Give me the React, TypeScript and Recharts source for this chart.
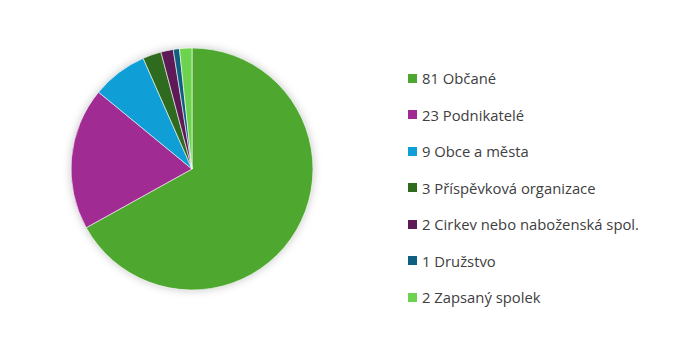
import { PieChart, Pie, Cell, Legend } from 'recharts'

const names = [
  'Občané',
  'Podnikatelé',
  'Obce a města',
  'Příspěvková organizace',
  'Cirkev nebo naboženská spol.',
  'Družstvo',
  'Zapsaný spolek',
]
const counts = [81, 23, 9, 3, 2, 1, 2]
const colors = ['#4EA72E', '#A02B93', '#0F9ED5', '#2F6B1F', '#5E1A56', '#0F5F80', '#6DD34E']

const data = names.map((n, i) => ({ name: `${counts[i]} ${n}`, value: counts[i] }))

function renderLegend() {
  return (
    <div style={{ position: 'absolute', left: 408, top: 60, fontFamily: 'Open Sans, sans-serif' }}>
      {data.map((d, i) => (
        <div key={i} style={{ display: 'flex', alignItems: 'center', height: 36.5 }}>
          <span style={{ width: 9, height: 9, background: colors[i], display: 'inline-block', marginRight: 5 }} />
          <span style={{ fontSize: 14.8, color: '#404040', lineHeight: '20px' }}>{d.name}</span>
        </div>
      ))}
    </div>
  )
}

export default function App() {
  return (
    <div style={{ position: 'absolute', left: 0, top: 0, width: 673, height: 345, background: '#fff' }}>
      <style>{`.recharts-pie { filter: drop-shadow(0 0 4px rgba(0,0,0,0.22)); }`}</style>
      <PieChart width={673} height={345}>
        <Pie
          data={data}
          dataKey="value"
          nameKey="name"
          cx={187}
          cy={164}
          outerRadius={121}
          startAngle={90}
          endAngle={-270}
          stroke="#ffffff"
          strokeWidth={0.6}
          isAnimationActive={false}
          legendType="square"
        >
          {data.map((_, i) => (
            <Cell key={i} fill={colors[i]} />
          ))}
        </Pie>
        <Legend content={renderLegend} wrapperStyle={{ position: 'absolute', left: 0, top: 0, width: 673, height: 345 }} />
      </PieChart>
    </div>
  )
}
